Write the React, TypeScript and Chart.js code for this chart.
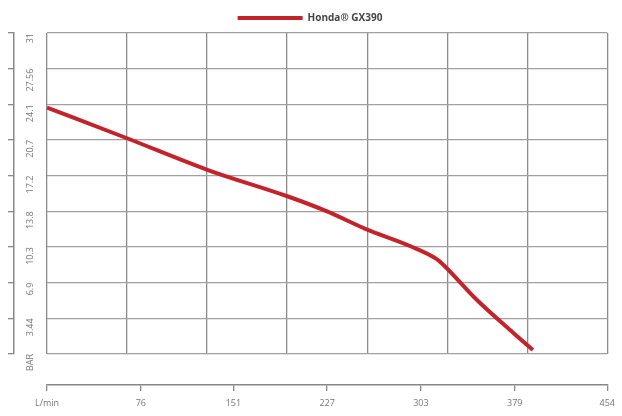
import { useEffect, useRef } from 'react';
import { Chart, registerables } from 'chart.js';

Chart.register(...registerables);

const seriesName = 'Honda® GX390';
const flowLpm = [0, 64.3, 131.0, 195.3, 227.4, 257.9, 294.1, 315.8, 322.3, 348.0, 377.7, 393.7];
const pressureBar = [23.79, 20.86, 17.74, 15.21, 13.75, 12.09, 10.43, 9.16, 8.48, 5.26, 2.05, 0.39];
const xTickValues = [0, 76, 151, 227, 303, 379, 454];
const xTickLabels = ['L/min', '76', '151', '227', '303', '379', '454'];
const yTickValues = [0, 3.44, 6.89, 10.33, 13.78, 17.22, 20.67, 24.11, 27.56, 31];
const yTickLabels = ['BAR', '3.44', '6.9', '10.3', '13.8', '17.2', '20.7', '24.1', '27.56', '31'];
const gridColumns = 7;

export default function App() {
  const ref = useRef<HTMLCanvasElement | null>(null);

  useEffect(() => {
    document.body.style.margin = '0';
    document.body.style.background = '#ffffff';
    const font = { family: "'Open Sans', 'DejaVu Sans', sans-serif", size: 9 };
    const chart = new Chart(ref.current as HTMLCanvasElement, {
      type: 'line',
      data: {
        datasets: [
          {
            label: seriesName,
            data: flowLpm.map((x, i) => ({ x, y: pressureBar[i] })),
            borderColor: '#c3242c',
            backgroundColor: '#c3242c',
            borderWidth: 4,
            pointRadius: 0,
            cubicInterpolationMode: 'monotone',
            xAxisID: 'x',
            yAxisID: 'y',
          },
        ],
      },
      options: {
        responsive: false,
        animation: false,
        layout: { padding: { left: 8, right: 10, top: 0, bottom: 6 } },
        plugins: {
          legend: {
            labels: {
              boxWidth: 65,
              boxHeight: 4,
              padding: 13,
              color: '#444',
              font: { ...font, size: 10, weight: 'bold' },
              generateLabels: (c: any) =>
                (Chart.defaults.plugins.legend.labels as any)
                  .generateLabels(c)
                  .map((l: any) => ({ ...l, lineWidth: 0 })),
            },
          },
          tooltip: { enabled: false },
        },
        scales: {
          xg: {
            type: 'linear',
            position: 'bottom',
            min: 0,
            max: gridColumns,
            weight: 0,
            ticks: { display: false, stepSize: 1 },
            grid: { color: '#8c8c8c', lineWidth: 1.3, drawTicks: false },
            border: { display: false },
            afterFit: (s: any) => {
              s.height = 31;
            },
          },
          x: {
            type: 'linear',
            position: 'bottom',
            min: 0,
            max: 454,
            weight: 1,
            afterBuildTicks: (s: any) => {
              s.ticks = xTickValues.map((v) => ({ value: v }));
            },
            ticks: {
              callback: (_v: any, i: number) => xTickLabels[i],
              color: '#777',
              font,
              padding: 7,
              maxRotation: 0,
              autoSkip: false,
            },
            grid: { drawOnChartArea: false, tickLength: 6, color: '#888', lineWidth: 1.3 },
            border: { color: '#888', width: 1.5 },
            afterFit: (s: any) => {
              s.height = 25;
            },
          },
          y: {
            type: 'linear',
            position: 'left',
            min: 0,
            max: 31,
            weight: 0,
            afterBuildTicks: (s: any) => {
              s.ticks = yTickValues.map((v) => ({ value: v }));
            },
            ticks: {
              callback: (_v: any, i: number) => yTickLabels[i],
              color: '#777',
              font,
              padding: 17,
              minRotation: 90,
              maxRotation: 90,
              autoSkip: false,
            },
            grid: { color: '#a0a0a0', lineWidth: 1.3, drawTicks: false },
            border: { display: false },
            afterFit: (s: any) => {
              s.width = 33;
            },
          },
          yo: {
            type: 'linear',
            position: 'left',
            min: 0,
            max: 31,
            weight: 1,
            afterBuildTicks: (s: any) => {
              s.ticks = yTickValues.map((v) => ({ value: v }));
            },
            ticks: { display: false },
            grid: { drawOnChartArea: false, tickLength: 6, color: '#888', lineWidth: 1.3 },
            border: { color: '#888', width: 1.5 },
            afterFit: (s: any) => {
              s.width = 6;
            },
          },
        },
      },
    } as any);
    return () => chart.destroy();
  }, []);

  return (
    <div style={{ width: 622, height: 416 }}>
      <canvas ref={ref} width={622} height={416} />
    </div>
  );
}
